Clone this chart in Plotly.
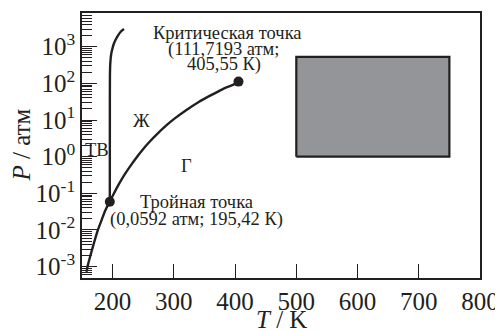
import plotly.graph_objects as go

# Data
sub_T = [157.3, 160, 165, 170, 176, 182, 188, 195.42]
sub_P = [0.00072, 0.00117, 0.0024, 0.0047, 0.010, 0.0186, 0.034, 0.0592]

vap_T = [195.42, 200, 210, 220, 230, 240, 250, 260, 273, 290, 300, 320, 340, 360, 380, 400, 405.55]
vap_P = [0.0592, 0.085, 0.175, 0.334, 0.59, 1.0, 1.63, 2.52, 4.2, 7.7, 10.6, 18.5, 30.6, 47, 70, 97, 111.7193]

melt_T = [195.42, 195.5, 195.6, 196.2, 197.9, 200.0, 202.3, 207.7, 213.2, 218.6]
melt_P = [0.0592, 10, 150, 352, 661, 933, 1239, 1875, 2564, 3041]

point_T = [195.42, 405.55]
point_P = [0.0592, 111.7193]

rect_T = [500, 750]
rect_P = [1, 530]

x_ticks = [200, 300, 400, 500, 600, 700, 800]
y_exps = [-3, -2, -1, 0, 1, 2, 3]

INK = "#231f20"
FONT = "Liberation Serif"
TICK_SIZE = 25
LABEL_SIZE = 18.5

fig = go.Figure()

fig.add_trace(go.Scatter(
    x=[rect_T[0], rect_T[1], rect_T[1], rect_T[0], rect_T[0]],
    y=[rect_P[0], rect_P[0], rect_P[1], rect_P[1], rect_P[0]],
    mode="lines", fill="toself", fillcolor="#939598",
    line=dict(color=INK, width=2.2), hoverinfo="skip"))

for T, P in [(sub_T, sub_P), (vap_T, vap_P), (melt_T, melt_P)]:
    fig.add_trace(go.Scatter(x=T, y=P, mode="lines",
                             line=dict(color=INK, width=2.4, shape="spline", smoothing=0.6)))

fig.add_trace(go.Scatter(x=point_T, y=point_P, mode="markers",
                         marker=dict(color=INK, size=10)))

minor_vals = [m * 10.0 ** e for e in range(-4, 4) for m in range(2, 10)]

# page body has an 8px default margin: compensate so the plot area lands where it should
fig.update_layout(
    width=495, height=323,
    margin=dict(l=74, r=23, t=5, b=53),
    paper_bgcolor="white", plot_bgcolor="white",
    showlegend=False,
    font=dict(family=FONT, color=INK, size=TICK_SIZE),
    xaxis=dict(range=[150, 800], tickvals=x_ticks, automargin=False,
               ticks="inside", ticklen=14, tickwidth=1.3, tickcolor=INK,
               showline=True, linecolor=INK, linewidth=1.6, mirror=True,
               showgrid=False, zeroline=False,
               tickfont=dict(size=TICK_SIZE)),
    yaxis=dict(type="log", range=[-3.31, 3.92], automargin=False,
               tickvals=[10.0 ** e for e in y_exps],
               ticktext=["10<sup>%d</sup>" % e for e in y_exps],
               ticks="inside", ticklen=15, tickwidth=1.3, tickcolor=INK,
               minor=dict(tickvals=minor_vals, ticks="inside", ticklen=10,
                          tickwidth=1.1, tickcolor=INK, showgrid=False),
               showline=True, linecolor=INK, linewidth=1.6, mirror=True,
               showgrid=False, zeroline=False,
               tickfont=dict(size=TICK_SIZE)),
)

# axis titles
fig.add_annotation(text="<i>T</i> / K", xref="paper", yref="paper", x=0.5, y=0,
                   yshift=-41, showarrow=False, xanchor="center", yanchor="middle",
                   font=dict(family=FONT, size=TICK_SIZE, color=INK))
fig.add_annotation(text="<i>P</i> / атм", xref="paper", yref="paper", x=0, y=0.5,
                   xshift=-61, textangle=-90, showarrow=False,
                   xanchor="center", yanchor="middle",
                   font=dict(family=FONT, size=TICK_SIZE, color=INK))

labels = [
    ("ТВ", 175.3, 0.183),
    ("Ж", 247.5, 0.974),
    ("Г", 321, -0.267),
    ("Критическая точка", 388.4, 3.374),
    ("(111,7193 атм;", 381.9, 2.937),
    ("405,55 К)", 382.7, 2.528),
    ("Тройная точка", 337.3, -1.227),
    ("(0,0592 атм; 195,42 К)", 336.2, -1.707),
]
for txt, x, y in labels:
    fig.add_annotation(text=txt, x=x, y=y, xref="x", yref="y", showarrow=False,
                       font=dict(family=FONT, size=LABEL_SIZE, color=INK),
                       xanchor="center", yanchor="middle")

fig.write_html("out.html")
